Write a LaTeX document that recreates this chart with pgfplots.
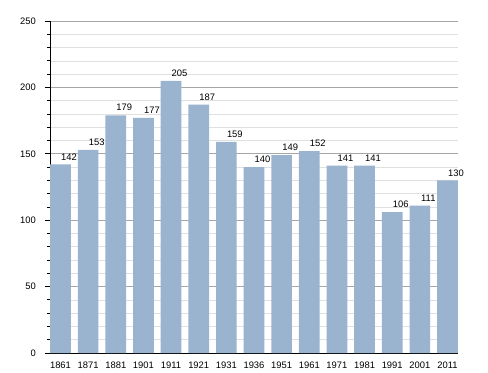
\documentclass[border=0pt]{standalone}
\usepackage{fontspec}
\setmainfont{Liberation Sans}
\usepackage{pgfplots}
\pgfplotsset{compat=1.18}
\definecolor{barc}{HTML}{9AB3CF}
\pgfplotsset{/pgf/number format/assume math mode=true}
\begin{document}
\fontsize{9.4bp}{11bp}\selectfont
\begin{tikzpicture}
\useasboundingbox (-50bp,-20bp) rectangle (438bp,353bp);
\begin{axis}[
  anchor=south west, at={(0,0)},
  scale only axis, width=408bp, height=332bp,
  xmin=-0.38, xmax=14.38, ymin=0, ymax=250,
  axis x line*=bottom, axis y line*=left,
  axis line style={black, line width=0.8bp},
  ybar, bar width=20.7bp,
  xtick={0,...,14},
  xticklabels={1861,1871,1881,1901,1911,1921,1931,1936,1951,1961,1971,1981,1991,2001,2011},
  xtick style={draw=none},
  xticklabel style={inner sep=0pt, anchor=north, yshift=-4bp},
  ytick={0,50,...,250},
  minor ytick={10,20,...,240},
  ymajorgrids, yminorgrids,
  major grid style={color=black!35, line width=0.6bp},
  minor grid style={color=black!12, line width=0.6bp},
  tick align=outside,
  major tick length=5bp, minor tick length=3bp,
  ytick style={black, line width=0.8bp},
  yticklabel style={inner sep=0pt, anchor=east, xshift=-9bp},
  tick label style={font=\fontsize{9.4bp}{11bp}\selectfont},
  nodes near coords,
  every node near coord/.append style={anchor=south, inner sep=0pt, xshift=8.5bp, yshift=4bp, font=\fontsize{9.4bp}{11bp}\selectfont, text=black},
]
\addplot[fill=barc, draw=none] coordinates {
(0,142) (1,153) (2,179) (3,177) (4,205) (5,187) (6,159) (7,140)
(8,149) (9,152) (10,141) (11,141) (12,106) (13,111) (14,130)
};
\end{axis}
\end{tikzpicture}
\end{document}
